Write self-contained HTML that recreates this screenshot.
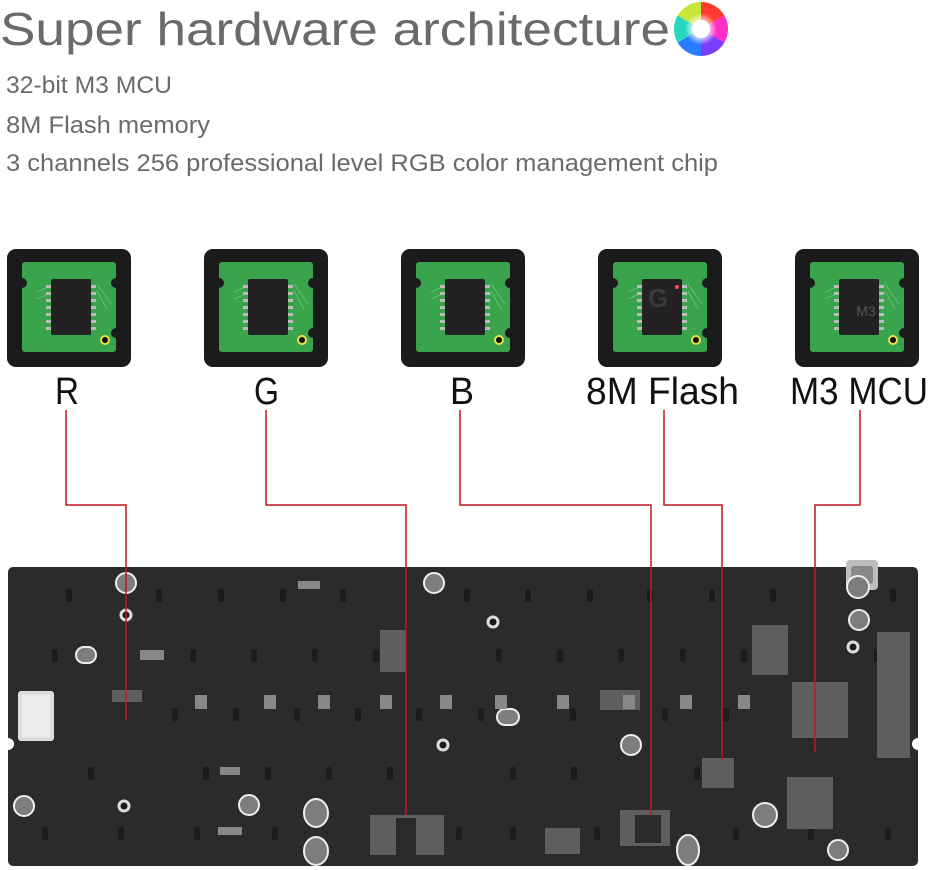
<!DOCTYPE html>
<html><head><meta charset="utf-8"><style>
html,body{margin:0;padding:0;background:#fff;}
body{width:929px;height:870px;overflow:hidden;position:relative;font-family:"Liberation Sans",sans-serif;}
</style></head><body>
<svg width="929" height="870" viewBox="0 0 929 870" xmlns="http://www.w3.org/2000/svg" style="position:absolute;left:0;top:0">
<defs>
<radialGradient id="wh" cx="50%" cy="50%" r="50%">
<stop offset="0" stop-color="#fff"/><stop offset="0.35" stop-color="#fff"/><stop offset="1" stop-color="#fff" stop-opacity="0"/>
</radialGradient>
<g id="tile">
<rect x="0" y="0" width="124" height="118" rx="9" fill="#1b1b1b"/>
<rect x="15" y="13" width="94" height="90" rx="3" fill="#3aa44c"/>
<circle cx="15" cy="34" r="5" fill="#1b1b1b"/><circle cx="109" cy="34" r="5" fill="#1b1b1b"/>
<circle cx="109" cy="84" r="5" fill="#1b1b1b"/>
<path d="M30 43 L48 35 M30 50 L48 42 M90 35 L104 55 M90 42 L100 60" stroke="#6cc27a" stroke-width="0.8" fill="none"/>
<g fill="#bbb"><rect x="39" y="36" width="6" height="3"/><rect x="39" y="43" width="6" height="3"/><rect x="39" y="50" width="6" height="3"/><rect x="39" y="57" width="6" height="3"/><rect x="39" y="64" width="6" height="3"/><rect x="39" y="71" width="6" height="3"/><rect x="39" y="78" width="6" height="3"/>
<rect x="83" y="36" width="6" height="3"/><rect x="83" y="43" width="6" height="3"/><rect x="83" y="50" width="6" height="3"/><rect x="83" y="57" width="6" height="3"/><rect x="83" y="64" width="6" height="3"/><rect x="83" y="71" width="6" height="3"/><rect x="83" y="78" width="6" height="3"/></g>
<rect x="44" y="30" width="40" height="56" rx="2" fill="#222"/>
<circle cx="98" cy="91" r="4" fill="#111" stroke="#e8e04a" stroke-width="2"/>
</g>
</defs>

<text x="0" y="45" font-size="46" fill="#6a6a6a" textLength="670" lengthAdjust="spacingAndGlyphs">Super hardware architecture</text>
<g>
<path d="M701 2 A27 27 0 0 1 724.4 15.5 L701 29Z" fill="#ff3b30"/>
<path d="M724.4 15.5 A27 27 0 0 1 724.4 42.5 L701 29Z" fill="#ff2dc8"/>
<path d="M724.4 42.5 A27 27 0 0 1 701 56 L701 29Z" fill="#7a3cff"/>
<path d="M701 56 A27 27 0 0 1 677.6 42.5 L701 29Z" fill="#2a7bff"/>
<path d="M677.6 42.5 A27 27 0 0 1 677.6 15.5 L701 29Z" fill="#27d8c0"/>
<path d="M677.6 15.5 A27 27 0 0 1 701 2 L701 29Z" fill="#c6e63a"/>
<circle cx="701" cy="29" r="16" fill="url(#wh)"/>
<circle cx="701" cy="29" r="9" fill="#fff"/>
</g>
<g font-size="24" fill="#6a6a6a">
<text x="6" y="93" textLength="166" lengthAdjust="spacingAndGlyphs">32-bit M3 MCU</text>
<text x="6" y="133" textLength="204" lengthAdjust="spacingAndGlyphs">8M Flash memory</text>
<text x="6" y="171" textLength="712" lengthAdjust="spacingAndGlyphs">3 channels 256 professional level RGB color management chip</text>
</g>

<use href="#tile" x="7" y="249"/>
<use href="#tile" x="204" y="249"/>
<use href="#tile" x="401" y="249"/>
<use href="#tile" x="598" y="249"/>
<use href="#tile" x="795" y="249"/>
<text x="658" y="307" font-size="26" font-weight="bold" fill="#3a3a3a" text-anchor="middle">G</text>
<circle cx="677" cy="287" r="2" fill="#ff4a6a"/>
<text x="866" y="316" font-size="14" fill="#555" text-anchor="middle">M3</text>

<g font-size="38" fill="#111">
<text x="55" y="404" textLength="24" lengthAdjust="spacingAndGlyphs">R</text>
<text x="254" y="404" textLength="25" lengthAdjust="spacingAndGlyphs">G</text>
<text x="450" y="404" textLength="24" lengthAdjust="spacingAndGlyphs">B</text>
<text x="586" y="404" textLength="153" lengthAdjust="spacingAndGlyphs">8M Flash</text>
<text x="790" y="404" textLength="138" lengthAdjust="spacingAndGlyphs">M3 MCU</text>
</g>

<!-- board -->
<rect x="8" y="567" width="910" height="299" rx="5" fill="#2b2b2d"/>
<rect x="846" y="560" width="32" height="30" rx="4" fill="#bdbdbd"/>
<rect x="851" y="566" width="22" height="18" rx="3" fill="#888"/>
<circle cx="8" cy="744" r="6" fill="#fff"/><circle cx="918" cy="744" r="6" fill="#fff"/>
<g fill="#1c1c1d">
<rect x="66" y="589" width="6" height="13" rx="2"/><rect x="156" y="589" width="6" height="13" rx="2"/><rect x="218" y="589" width="6" height="13" rx="2"/><rect x="280" y="589" width="6" height="13" rx="2"/><rect x="340" y="589" width="6" height="13" rx="2"/><rect x="464" y="589" width="6" height="13" rx="2"/><rect x="525" y="589" width="6" height="13" rx="2"/><rect x="587" y="589" width="6" height="13" rx="2"/><rect x="647" y="589" width="6" height="13" rx="2"/><rect x="709" y="589" width="6" height="13" rx="2"/><rect x="770" y="589" width="6" height="13" rx="2"/><rect x="890" y="589" width="6" height="13" rx="2"/>
<rect x="52" y="649" width="6" height="13" rx="2"/><rect x="190" y="649" width="6" height="13" rx="2"/><rect x="251" y="649" width="6" height="13" rx="2"/><rect x="312" y="649" width="6" height="13" rx="2"/><rect x="373" y="649" width="6" height="13" rx="2"/><rect x="496" y="649" width="6" height="13" rx="2"/><rect x="557" y="649" width="6" height="13" rx="2"/><rect x="618" y="649" width="6" height="13" rx="2"/><rect x="680" y="649" width="6" height="13" rx="2"/><rect x="741" y="649" width="6" height="13" rx="2"/><rect x="874" y="649" width="6" height="13" rx="2"/>
<rect x="172" y="708" width="6" height="13" rx="2"/><rect x="233" y="708" width="6" height="13" rx="2"/><rect x="294" y="708" width="6" height="13" rx="2"/><rect x="355" y="708" width="6" height="13" rx="2"/><rect x="416" y="708" width="6" height="13" rx="2"/><rect x="478" y="708" width="6" height="13" rx="2"/><rect x="570" y="708" width="6" height="13" rx="2"/><rect x="662" y="708" width="6" height="13" rx="2"/><rect x="723" y="708" width="6" height="13" rx="2"/>
<rect x="88" y="767" width="6" height="13" rx="2"/><rect x="203" y="767" width="6" height="13" rx="2"/><rect x="265" y="767" width="6" height="13" rx="2"/><rect x="326" y="767" width="6" height="13" rx="2"/><rect x="387" y="767" width="6" height="13" rx="2"/><rect x="510" y="767" width="6" height="13" rx="2"/><rect x="571" y="767" width="6" height="13" rx="2"/><rect x="694" y="767" width="6" height="13" rx="2"/>
<rect x="42" y="827" width="6" height="13" rx="2"/><rect x="118" y="827" width="6" height="13" rx="2"/><rect x="194" y="827" width="6" height="13" rx="2"/><rect x="272" y="827" width="6" height="13" rx="2"/><rect x="456" y="827" width="6" height="13" rx="2"/><rect x="510" y="827" width="6" height="13" rx="2"/><rect x="594" y="827" width="6" height="13" rx="2"/><rect x="733" y="827" width="6" height="13" rx="2"/><rect x="808" y="827" width="6" height="13" rx="2"/><rect x="885" y="827" width="6" height="13" rx="2"/>
</g>
<g fill="#7d7d7d" stroke="#eee" stroke-width="2">
<circle cx="126" cy="583" r="10"/><circle cx="434" cy="583" r="10"/><circle cx="859" cy="620" r="10"/><circle cx="631" cy="745" r="10"/>
<circle cx="24" cy="806" r="10"/><circle cx="249" cy="805" r="10"/><ellipse cx="316" cy="813" rx="12" ry="14"/><ellipse cx="316" cy="851" rx="12" ry="14"/>
<circle cx="765" cy="815" r="12"/><ellipse cx="688" cy="850" rx="11" ry="15"/><circle cx="838" cy="850" r="10"/><circle cx="858" cy="587" r="11"/>
<rect x="76" y="647" width="20" height="16" rx="8"/><rect x="497" y="709" width="22" height="16" rx="8"/>
</g>
<g fill="#1a1a1a" stroke="#ddd" stroke-width="3">
<circle cx="126" cy="615" r="5"/><circle cx="493" cy="622" r="5"/><circle cx="443" cy="745" r="5"/><circle cx="124" cy="806" r="5"/><circle cx="853" cy="647" r="5"/>
</g>
<!-- modules -->
<rect x="18" y="691" width="36" height="50" rx="3" fill="#ddd"/>
<rect x="22" y="695" width="28" height="42" fill="#eee"/>
<g fill="#5e5e5e">
<rect x="112" y="690" width="30" height="12"/><rect x="380" y="630" width="26" height="42"/><rect x="370" y="815" width="74" height="40"/>
<rect x="620" y="810" width="50" height="36"/><rect x="702" y="758" width="32" height="30"/><rect x="752" y="625" width="36" height="50"/>
<rect x="792" y="682" width="56" height="56"/><rect x="877" y="632" width="33" height="126"/><rect x="787" y="777" width="46" height="52"/>
<rect x="545" y="828" width="35" height="26"/><rect x="600" y="690" width="40" height="20"/>
</g>
<g fill="#2a2a2a">
<rect x="112" y="705" width="28" height="20"/><rect x="396" y="818" width="20" height="40"/><rect x="635" y="815" width="26" height="28"/>
<rect x="800" y="745" width="32" height="32"/>
</g>
<g fill="#888">
<rect x="195" y="695" width="12" height="14"/><rect x="264" y="695" width="12" height="14"/><rect x="318" y="695" width="12" height="14"/><rect x="380" y="695" width="12" height="14"/><rect x="440" y="695" width="12" height="14"/><rect x="495" y="695" width="12" height="14"/><rect x="557" y="695" width="12" height="14"/><rect x="623" y="695" width="12" height="14"/><rect x="680" y="695" width="12" height="14"/><rect x="738" y="695" width="12" height="14"/>
<rect x="140" y="650" width="24" height="10"/><rect x="298" y="581" width="22" height="8"/><rect x="220" y="767" width="20" height="8"/><rect x="218" y="827" width="24" height="8"/>
</g>
<!-- red lines -->
<g fill="none" stroke="#c0161e" stroke-width="1.5">
<polyline points="66,410 66,505 126,505 126,720"/>
<polyline points="266,410 266,505 406,505 406,815"/>
<polyline points="460,410 460,505 651,505 651,815"/>
<polyline points="664,410 664,505 722,505 722,760"/>
<polyline points="860,410 860,505 815,505 815,752"/>
</g>
</svg>
</body></html>
